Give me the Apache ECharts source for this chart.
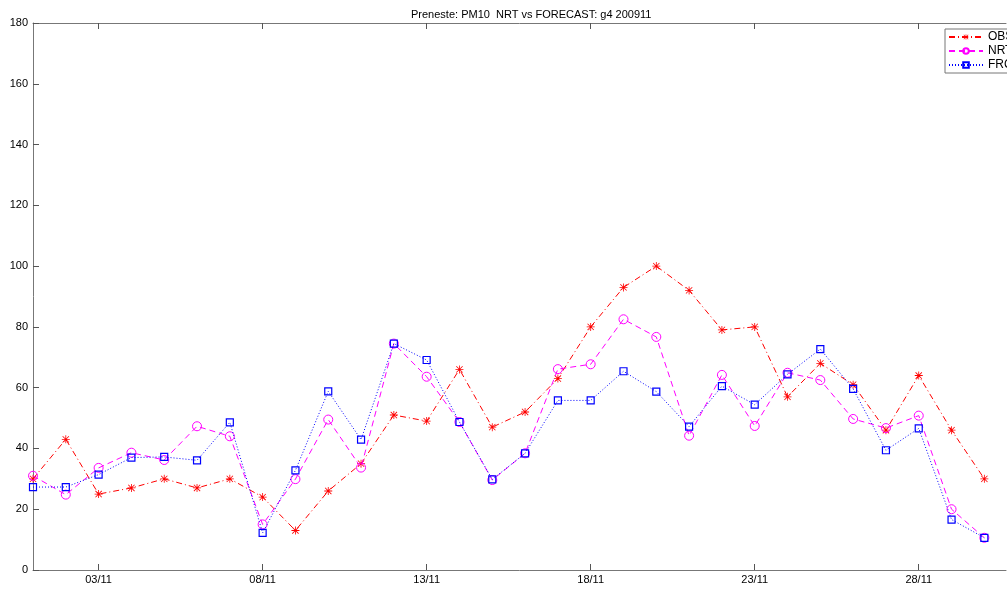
<!DOCTYPE html>
<html>
<head>
<meta charset="utf-8" />
<title>Preneste PM10</title>
<script src="https://cdn.jsdelivr.net/npm/echarts@6/dist/echarts.min.js"></script>
<style>
  html, body { margin: 0; padding: 0; background: #fff; }
  #chartmain { width: 1007px; height: 590px; }
</style>
</head>
<body>
<div id="chartmain"></div>
<script type="text/javascript">
// giorni di novembre 2009
var days = [1,2,3,4,5,6,7,8,9,10,11,12,13,14,15,16,17,18,19,20,21,22,23,24,25,26,27,28,29,30];
var obs = [30,43,25,27,30,27,30,24,13,26,35,51,49,66,47,52,63,80,93,100,92,79,80,57,68,61,46,64,46,30];
var nrt = [31,24.8,33.6,38.6,36.2,47.3,44,15,29.9,49.5,33.7,74.5,63.6,48.7,29.6,38.4,66.1,67.7,82.5,76.7,44.2,64.2,47.4,64.9,62.5,49.7,46.7,50.8,20,10.6];
var frc = [27.3,27.3,31.4,37,37.2,36.1,48.6,12.2,32.8,58.8,42.9,74.5,69.1,48.7,29.8,38.4,55.8,55.8,65.4,58.7,47.2,60.5,54.4,64.4,72.7,59.6,39.4,46.6,16.6,10.6];
var xTicks = [3,8,13,18,23,28];

var titleText = 'Preneste: PM10  NRT vs FORECAST: g4 200911';
var FONT = 'Liberation Sans';
// l'immagine originale e' tagliata a destra: l'asse finisce oltre il bordo
var xMax = 30.66;

function pairs(vals) {
  return days.map(function (d, i) { return [d, vals[i]]; });
}
function dayLabel(v) {
  return (v < 10 ? '0' + v : '' + v) + '/11';
}

// asterisco stile matlab (+ e x sovrapposti)
var starPath = 'path://M0 4.5H10V5.5H0Z M4.5 0H5.5V10H4.5Z M0.7 1.4L1.4 0.7L9.3 8.6L8.6 9.3Z M8.6 0.7L9.3 1.4L1.4 9.3L0.7 8.6Z';

var myChart = echarts.init(document.getElementById('chartmain'));
var option = {
  backgroundColor: '#fff',
  animation: false,
  textStyle: { fontFamily: FONT },
  title: {
    text: titleText,
    left: 406,
    top: 4,
    textStyle: { fontFamily: FONT, fontSize: 11, fontWeight: 'normal', color: '#000' }
  },
  legend: {
    orient: 'vertical',
    left: 945,
    top: 29,
    itemWidth: 34,
    itemHeight: 7,
    itemGap: 2,
    padding: [2, 40, 2, 3],
    backgroundColor: '#fff',
    borderColor: '#777',
    borderWidth: 1,
    borderRadius: 0,
    textStyle: { fontFamily: FONT, fontSize: 12, lineHeight: 12, color: '#000' },
    data: ['OBS', 'NRT', 'FRC']
  },
  grid: {
    left: 33,
    top: 23,
    right: 1,
    height: 547,
    show: false
  },
  xAxis: [
    {
      type: 'value',
      min: 1,
      max: xMax,
      position: 'bottom',
      splitLine: { show: false },
      axisLine: { lineStyle: { color: '#777' } },
      axisTick: { inside: true, length: 6, customValues: xTicks, lineStyle: { color: '#555' } },
      axisLabel: {
        customValues: xTicks,
        formatter: dayLabel,
        color: '#000',
        fontFamily: FONT,
        fontSize: 11,
        margin: 4
      }
    },
    {
      type: 'value',
      min: 1,
      max: xMax,
      position: 'top',
      splitLine: { show: false },
      axisLine: { lineStyle: { color: '#777' } },
      axisTick: { inside: true, length: 6, customValues: xTicks, lineStyle: { color: '#555' } },
      axisLabel: { show: false }
    }
  ],
  yAxis: [
    {
      type: 'value',
      min: 0,
      max: 180,
      interval: 20,
      splitLine: { show: false },
      axisLine: { show: true, lineStyle: { color: '#777' } },
      axisTick: { show: true, inside: true, length: 6, lineStyle: { color: '#555' } },
      axisLabel: { color: '#000', fontFamily: FONT, fontSize: 11, margin: 5 }
    }
  ],
  series: [
    {
      name: 'OBS',
      type: 'line',
      data: pairs(obs),
      symbol: starPath,
      symbolSize: 8,
      symbolKeepAspect: true,
      itemStyle: { color: '#ff0000' },
      lineStyle: { color: '#ff0000', width: 1, type: [6, 3, 1, 3] },
      z: 2
    },
    {
      name: 'NRT',
      type: 'line',
      data: pairs(nrt),
      symbol: 'circle',
      symbolSize: 9,
      itemStyle: { color: 'transparent', borderColor: '#ff00ff', borderWidth: 1 },
      lineStyle: { color: '#ff00ff', width: 1, type: [6, 4] },
      z: 3
    },
    {
      name: 'FRC',
      type: 'line',
      data: pairs(frc),
      symbol: 'rect',
      symbolSize: 7,
      itemStyle: { color: 'transparent', borderColor: '#0000ff', borderWidth: 1.2 },
      lineStyle: { color: '#0000ff', width: 1, type: [1, 2] },
      z: 4
    }
  ]
};
myChart.setOption(option);
</script>
</body>
</html>
